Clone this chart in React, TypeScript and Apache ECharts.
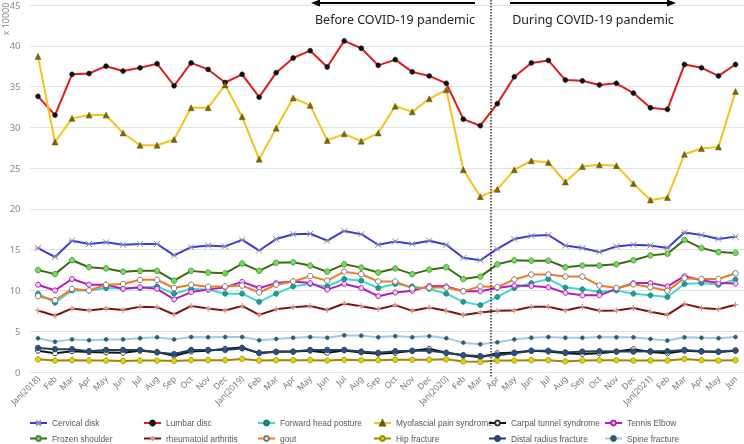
import React, { useEffect, useRef } from "react";
import * as echarts from "echarts";

const months = [
  "Jan(2018)", "Feb", "Mar", "Apr", "May", "Jun", "Jul", "Aug", "Sep", "Oct", "Nov", "Dec",
  "Jan(2019)", "Feb", "Mar", "Apr", "May", "Jun", "Jul", "Aug", "Sep", "Oct", "Nov", "Dec",
  "Jan(2020)", "Feb", "Mar", "Apr", "May", "Jun", "Jul", "Aug", "Sep", "Oct", "Nov", "Dec",
  "Jan(2021)", "Feb", "Mar", "Apr", "May", "Jun",
];

const yTicks = [0, 45, 5];

const cervical = [15.2, 14.1, 16.1, 15.7, 15.9, 15.6, 15.7, 15.7, 14.3, 15.3, 15.5, 15.4, 16.2, 14.9, 16.3, 16.9, 16.95, 16.1, 17.3, 16.9, 15.6, 16.0, 15.7, 16.1, 15.6, 14.0, 13.7, 15.1, 16.3, 16.7, 16.8, 15.5, 15.2, 14.7, 15.4, 15.6, 15.5, 15.2, 17.1, 16.8, 16.3, 16.6];
const lumbar = [33.8, 31.5, 36.5, 36.6, 37.5, 36.9, 37.3, 37.8, 35.1, 37.9, 37.1, 35.5, 36.5, 33.7, 36.7, 38.5, 39.4, 37.4, 40.6, 39.7, 37.6, 38.3, 36.8, 36.3, 35.4, 31.0, 30.2, 32.9, 36.2, 37.9, 38.2, 35.8, 35.7, 35.2, 35.4, 34.2, 32.4, 32.2, 37.7, 37.3, 36.3, 37.7];
const forwardHead = [9.6, 8.5, 10.0, 10.0, 10.3, 10.2, 10.3, 10.5, 9.6, 10.2, 10.1, 9.6, 9.6, 8.6, 9.6, 10.5, 10.8, 10.5, 11.4, 11.2, 10.3, 10.8, 10.5, 10.2, 9.6, 8.6, 8.2, 9.2, 10.3, 10.9, 11.4, 10.35, 10.15, 9.8, 10.0, 9.6, 9.4, 9.2, 10.8, 10.9, 10.7, 11.35];
const myofascial = [38.7, 28.2, 31.1, 31.5, 31.5, 29.3, 27.8, 27.8, 28.5, 32.4, 32.4, 35.2, 31.3, 26.1, 29.9, 33.6, 32.7, 28.4, 29.2, 28.3, 29.3, 32.6, 31.9, 33.5, 34.6, 24.8, 21.5, 22.4, 24.8, 25.9, 25.7, 23.3, 25.2, 25.4, 25.3, 23.1, 21.1, 21.4, 26.7, 27.4, 27.6, 34.4];
const carpal = [2.6, 2.3, 2.55, 2.45, 2.4, 2.35, 2.6, 2.45, 2.0, 2.5, 2.6, 2.85, 3.0, 2.3, 2.5, 2.5, 2.6, 2.35, 2.65, 2.4, 2.25, 2.35, 2.6, 2.85, 2.35, 2.05, 1.8, 2.3, 2.4, 2.6, 2.5, 2.3, 2.2, 2.3, 2.5, 2.8, 2.45, 2.3, 2.6, 2.5, 2.45, 2.6];
const tennis = [10.7, 10.0, 11.4, 10.7, 10.7, 10.2, 10.4, 10.2, 8.9, 9.8, 10.1, 10.4, 11.05, 10.3, 10.9, 11.1, 10.9, 10.1, 10.8, 10.3, 9.3, 9.75, 9.95, 10.55, 10.5, 9.9, 9.9, 10.3, 10.6, 10.55, 10.4, 9.7, 9.4, 9.4, 10.2, 10.9, 10.9, 10.5, 11.75, 11.25, 10.9, 10.85];
const frozen = [12.5, 12.0, 13.7, 12.85, 12.7, 12.3, 12.4, 12.4, 11.2, 12.4, 12.2, 12.1, 13.3, 12.4, 13.4, 13.45, 13.05, 12.3, 13.2, 12.8, 12.2, 12.7, 12.0, 12.55, 12.85, 11.4, 11.7, 13.2, 13.7, 13.65, 13.65, 12.85, 13.05, 13.05, 13.2, 13.7, 14.3, 14.5, 16.2, 15.2, 14.7, 14.6];
const rheum = [7.55, 6.9, 7.8, 7.55, 7.8, 7.6, 8.0, 7.95, 7.05, 8.1, 7.8, 7.55, 8.1, 7.0, 7.7, 7.95, 8.1, 7.6, 8.4, 8.05, 7.7, 8.2, 7.5, 7.9, 7.5, 7.0, 7.3, 7.5, 7.55, 8.0, 8.0, 7.55, 8.0, 7.5, 7.55, 7.85, 7.4, 7.0, 8.35, 7.85, 7.7, 8.25];
const gout = [9.3, 8.8, 10.2, 10.0, 10.7, 10.8, 11.3, 11.3, 10.3, 10.7, 10.45, 10.5, 10.6, 9.75, 10.7, 11.1, 11.75, 11.2, 12.3, 12.0, 11.1, 11.1, 10.25, 10.35, 10.35, 9.9, 10.5, 10.4, 11.35, 11.95, 11.95, 11.7, 11.7, 10.6, 10.3, 10.75, 10.4, 9.95, 11.5, 11.4, 11.4, 12.1];
const hip = [1.55, 1.4, 1.45, 1.4, 1.4, 1.35, 1.4, 1.4, 1.35, 1.45, 1.45, 1.45, 1.6, 1.4, 1.45, 1.45, 1.45, 1.4, 1.5, 1.45, 1.45, 1.5, 1.5, 1.5, 1.55, 1.3, 1.25, 1.4, 1.4, 1.45, 1.45, 1.3, 1.4, 1.45, 1.45, 1.4, 1.4, 1.4, 1.6, 1.45, 1.4, 1.45];
const distal = [2.95, 2.8, 2.8, 2.55, 2.7, 2.7, 2.7, 2.4, 2.2, 2.7, 2.7, 2.7, 2.9, 2.35, 2.45, 2.5, 2.7, 2.7, 2.7, 2.5, 2.35, 2.55, 2.6, 2.6, 2.35, 2.05, 1.95, 2.05, 2.3, 2.6, 2.6, 2.4, 2.5, 2.55, 2.5, 2.5, 2.55, 2.55, 2.7, 2.55, 2.5, 2.65];
const spine = [4.15, 3.7, 4.0, 3.9, 4.0, 4.0, 4.15, 4.25, 4.0, 4.3, 4.25, 4.3, 4.3, 3.9, 4.05, 4.2, 4.3, 4.2, 4.5, 4.45, 4.25, 4.4, 4.25, 4.4, 4.15, 3.6, 3.4, 3.65, 4.0, 4.2, 4.3, 4.2, 4.2, 4.3, 4.25, 4.25, 4.05, 3.85, 4.25, 4.2, 4.15, 4.3];

const FONT = "'Noto Sans', 'Open Sans', sans-serif";
const LEGEND_FONT = "'Liberation Sans', Arial, sans-serif";
const X_SYM = "path://M0,0L10,10M10,0L0,10M0,5L10,5";
const PLUS_SYM = "path://M5,0L5,10M0,5L10,5";

type Def = {
  name: string;
  data: number[];
  line: string;
  symbol: string;
  size: number;
  fill: string;
  border: string;
  bw: number;
  legendLeft: number;
  row: number;
};

const defs: Def[] = [
  { name: "Cervical disk", data: cervical, line: "#3b3bdb", symbol: X_SYM, size: 6, fill: "none", border: "#8a8aa0", bw: 1, legendLeft: 29, row: 0 },
  { name: "Lumbar disc", data: lumbar, line: "#e21b1b", symbol: "circle", size: 5, fill: "#111", border: "#111", bw: 0.5, legendLeft: 143, row: 0 },
  { name: "Forward head posture", data: forwardHead, line: "#3fd9d0", symbol: "circle", size: 5, fill: "#1f9e94", border: "#127a70", bw: 0.8, legendLeft: 257, row: 0 },
  { name: "Myofascial pain syndrome", data: myofascial, line: "#f6c21c", symbol: "triangle", size: 6, fill: "#7b6508", border: "#6a5806", bw: 0.5, legendLeft: 373, row: 0 },
  { name: "Carpal tunnel syndrome", data: carpal, line: "#111111", symbol: "circle", size: 5, fill: "#ffffff", border: "#333", bw: 1, legendLeft: 488, row: 0 },
  { name: "Tennis Elbow", data: tennis, line: "#b01ec0", symbol: "circle", size: 5, fill: "#f6c8f6", border: "#b01ec0", bw: 1, legendLeft: 604, row: 0 },
  { name: "Frozen shoulder", data: frozen, line: "#3e6b12", symbol: "circle", size: 5.5, fill: "#6fdc5a", border: "#3e8e2a", bw: 0.8, legendLeft: 29, row: 1 },
  { name: "rheumatoid arthritis", data: rheum, line: "#7a1414", symbol: PLUS_SYM, size: 6, fill: "none", border: "#e8967a", bw: 1.2, legendLeft: 143, row: 1 },
  { name: "gout", data: gout, line: "#f47a20", symbol: "circle", size: 5.5, fill: "#ffffff", border: "#777", bw: 1, legendLeft: 257, row: 1 },
  { name: "Hip fracture", data: hip, line: "#a08800", symbol: "circle", size: 5.5, fill: "#e0d010", border: "#a09000", bw: 0.8, legendLeft: 373, row: 1 },
  { name: "Distal radius fracture", data: distal, line: "#223d66", symbol: "circle", size: 5.5, fill: "#2d4f80", border: "#223d66", bw: 0.8, legendLeft: 488, row: 1 },
  { name: "Spine fracture", data: spine, line: "#a4c8ec", symbol: "circle", size: 4, fill: "#2f5f6a", border: "#2f5f6a", bw: 0.5, legendLeft: 604, row: 1 },
];

export default function App() {
  const ref = useRef<HTMLDivElement>(null);
  useEffect(() => {
    if (!ref.current) return;
    const chart = echarts.init(ref.current, undefined, { renderer: "svg" });
    const series = defs.map((d) => ({
      name: d.name,
      type: "line",
      data: d.data,
      symbol: d.symbol,
      symbolSize: d.size,
      showSymbol: true,
      lineStyle: { color: d.line, width: 2 },
      itemStyle: { color: d.fill === "none" ? "rgba(0,0,0,0)" : d.fill, borderColor: d.border, borderWidth: d.bw },
      emphasis: { disabled: true },
      z: 2,
    }));
    const legends = defs.map((d) => ({
      data: [d.name],
      left: d.legendLeft,
      top: 419 + d.row * 15.5,
      padding: 0,
      itemWidth: 17,
      itemHeight: 6,
      itemGap: 0,
      selectedMode: false,
      textStyle: { fontSize: 8.4, color: "#595959", fontFamily: LEGEND_FONT },
    }));
    chart.setOption({
      animation: false,
      grid: { left: 29.5, top: 3, width: 720, height: 369 },
      xAxis: {
        type: "category",
        data: months,
        boundaryGap: true,
        axisLine: { show: false },
        axisTick: { show: false },
        axisLabel: { interval: 0, rotate: 45, fontSize: 8.5, color: "#777", margin: 5, fontFamily: FONT },
      },
      yAxis: {
        type: "value",
        min: yTicks[0],
        max: yTicks[1],
        interval: yTicks[2],
        axisLine: { show: false },
        axisTick: { show: false },
        axisLabel: { fontSize: 9.5, color: "#8a8a8a", margin: 9, fontFamily: FONT },
        splitLine: { lineStyle: { color: "#e2e2e2", width: 1 } },
      },
      legend: legends,
      series,
      graphic: [
        { type: "text", x: 5, y: 19, rotation: Math.PI / 2, style: { text: "x 10000", fontSize: 9, fill: "#8a8a8a", fontFamily: FONT, align: "center", verticalAlign: "middle" } },
        { type: "line", shape: { x1: 491, y1: 0, x2: 491, y2: 378 }, style: { stroke: "#333", lineWidth: 1.5, lineDash: [1.5, 1.5] }, z: 10 },
        { type: "line", shape: { x1: 475, y1: 3, x2: 318, y2: 3 }, style: { stroke: "#000", lineWidth: 2 }, z: 10 },
        { type: "polygon", shape: { points: [[311, 3], [320, -0.5], [320, 6.5]] }, style: { fill: "#000" }, z: 10 },
        { type: "line", shape: { x1: 510, y1: 3, x2: 668, y2: 3 }, style: { stroke: "#000", lineWidth: 2 }, z: 10 },
        { type: "polygon", shape: { points: [[676, 3], [667, -0.5], [667, 6.5]] }, style: { fill: "#000" }, z: 10 },
        { type: "text", x: 395, y: 19, style: { text: "Before COVID-19 pandemic", fontSize: 12.5, fill: "#222", fontFamily: FONT, align: "center", verticalAlign: "middle" }, z: 10 },
        { type: "text", x: 593, y: 19, style: { text: "During COVID-19 pandemic", fontSize: 12.5, fill: "#222", fontFamily: FONT, align: "center", verticalAlign: "middle" }, z: 10 },
      ],
    });
    return () => chart.dispose();
  }, []);
  return <div ref={ref} style={{ position: "fixed", left: 0, top: 0, width: 744, height: 444 }} />;
}
